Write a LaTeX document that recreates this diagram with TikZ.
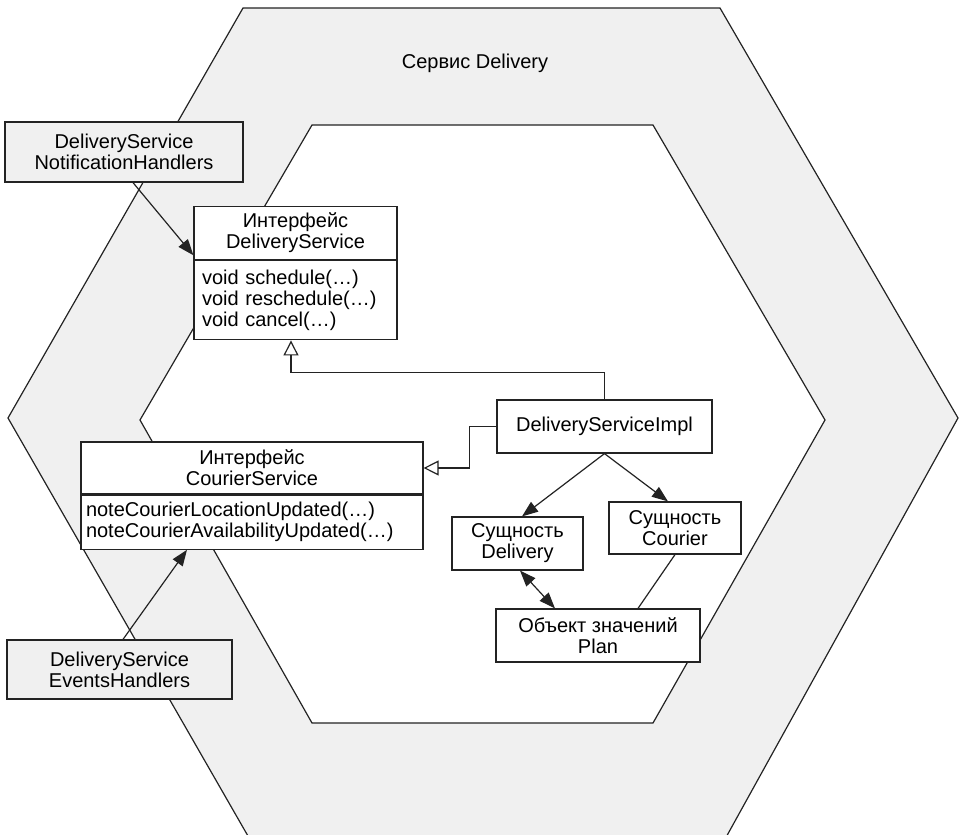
\documentclass[tikz,border=0pt]{standalone}
\usepackage{fontspec}
\setmainfont{Liberation Sans}
\usetikzlibrary{positioning,arrows.meta}
\definecolor{bandgray}{RGB}{240,240,240}
\definecolor{linegray}{RGB}{35,35,35}

\begin{document}
\begin{tikzpicture}[x=0.5pt,y=-0.5pt,
  every node/.style={font=\fontsize{10}{10.5}\selectfont},
  box/.style={draw=linegray, rectangle, fill=white, line width=0.6pt, align=center},
  outbox/.style={box, fill=bandgray},
  methods/.style={box, align=left, anchor=north},
  hexline/.style={draw=linegray, line width=0.6pt},
  arr/.style={draw=linegray, line width=0.6pt, -{Triangle[length=8pt,width=6pt]}},
  dblarr/.style={draw=linegray, line width=0.6pt, {Triangle[length=8pt,width=6pt]}-{Triangle[length=8pt,width=6pt]}},
  realize/.style={draw=linegray, line width=0.6pt, -{Triangle[open,length=7.5pt,width=7.5pt]}}]
  \useasboundingbox (0,0) rectangle (960,835);
  \clip (0,0) rectangle (960,835);

  % Hexagons
  \filldraw[hexline, fill=bandgray] (243,8) -- (720,8) -- (958,418) -- (719,850) -- (256,850) -- (8,418) -- cycle;
  \filldraw[hexline, fill=white] (312,125) -- (653,125) -- (825,420) -- (653,723) -- (312,723) -- (140,420) -- cycle;
  \node (title) at (475,63) {Сервис Delivery};

  % Adapters
  \node[outbox, minimum width=119pt, minimum height=30pt] (nh) at (124,152) {DeliveryService\\NotificationHandlers};
  \node[outbox, minimum width=112.5pt, minimum height=29.5pt] (eh) at (119.5,669.5) {DeliveryService\\EventsHandlers};

  % Interfaces
  \node[box, minimum width=101.5pt, minimum height=25pt] (dsHead) at (295.5,233) {Интерфейс\\DeliveryService};
  \node[methods, text width=93.5pt, inner sep=4pt, minimum height=39.5pt, below=0pt of dsHead] (dsBody) {void schedule(…)\\void reschedule(…)\\void cancel(…)};
  \node[box, minimum width=171pt, minimum height=26pt] (csHead) at (252,468) {Интерфейс\\CourierService};
  \node[methods, text width=166pt, inner sep=2.5pt, minimum height=27pt, below=0pt of csHead] (csBody) {noteCourierLocationUpdated(…)\\noteCourierAvailabilityUpdated(…)};

  % Domain
  \node[box, minimum width=107.5pt, minimum height=26.5pt] (impl) at (604.5,426.5) {DeliveryServiceImpl};
  \node[box, minimum width=65.5pt, minimum height=26.5pt] (delEnt) at (517.5,543.5) {Сущность\\Delivery};
  \node[box, minimum width=66pt, minimum height=26pt] (courEnt) at (675,528) {Сущность\\Courier};
  \node[box, minimum width=102pt, minimum height=26.5pt] (plan) at (598,635.5) {Объект значений\\Plan};

  \draw[arr] ([xshift=4.5pt]nh.south) -- ([yshift=2.5pt]dsBody.north west);
  \draw[arr] ([xshift=1.75pt]eh.north) -- ([xshift=-32.5pt]csBody.south);
  \draw[realize] (impl.north) -- ++(0,-27) -| ([xshift=-2.25pt]dsBody.south);
  \draw[realize] (impl.west) -- ++(-27,0) |- (csHead.east);
  \draw[arr] (impl.south) -- ([xshift=2.25pt]delEnt.north);
  \draw[arr] (impl.south) -- ([xshift=-3.5pt]courEnt.north);
  \draw[dblarr] ([xshift=1.25pt]delEnt.south) -- ([xshift=-21.5pt]plan.north);
  \draw[hexline] (courEnt.south) -- ([xshift=20pt]plan.north);
\end{tikzpicture}
\end{document}
